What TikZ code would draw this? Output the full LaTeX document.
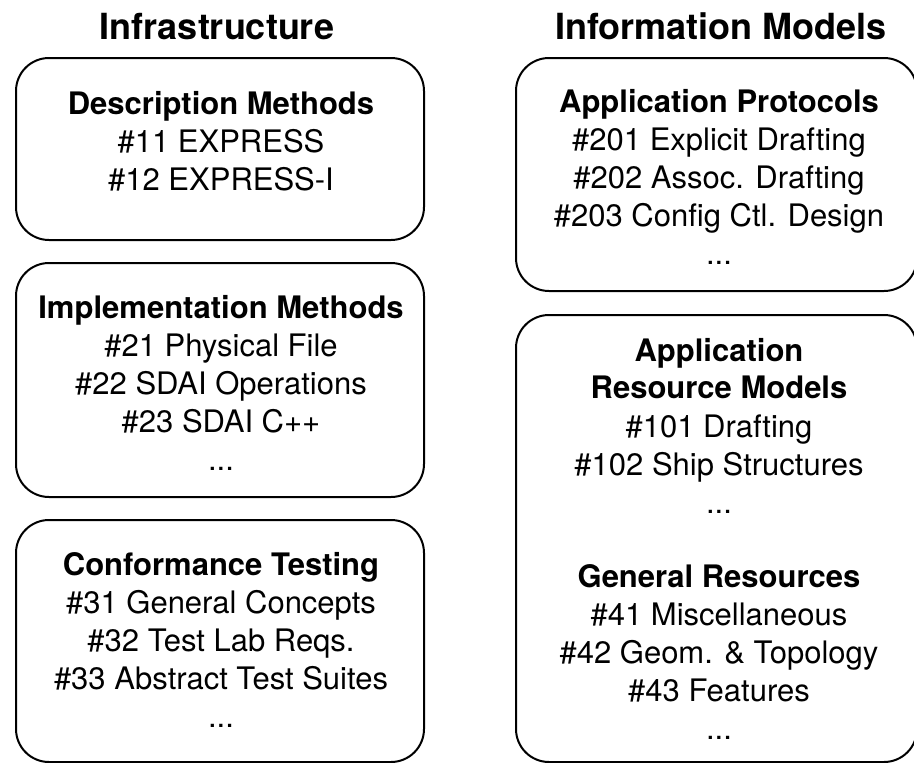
\documentclass[tikz,border=0pt]{standalone}
\usepackage{fontspec}
\setmainfont{TeX Gyre Heros}
\begin{document}
\begin{tikzpicture}[x=1pt,y=-1pt,
  panel/.style={draw=black,line width=2pt,rounded corners=33pt,inner sep=0pt},
  heading/.style={anchor=base,inner sep=0pt,font=\fontsize{36}{42}\selectfont\bfseries},
  title/.style={anchor=base,inner sep=0pt,font=\fontsize{31}{38}\selectfont\bfseries},
  entry/.style={anchor=base,inner sep=0pt,font=\fontsize{31}{38}\selectfont}]
\useasboundingbox (0,0) rectangle (914,763);

% column headings
\node[heading] (hinfra) at (217,39) {Infrastructure};
\node[heading] (hinfo) at (721,39) {Information Models};

% left column: infrastructure parts
\draw[panel] (16,58) rectangle (424,240);
\node[title] (dm) at (221,114) {Description Methods};
\node[entry] (dm1) at (221,152) {\#11 EXPRESS};
\node[entry] (dm2) at (221,190) {\#12 EXPRESS-I};

\draw[panel] (16,263) rectangle (424,497);
\node[title] (im) at (221,318) {Implementation Methods};
\node[entry] (im1) at (221,356) {\#21 Physical File};
\node[entry] (im2) at (221,394) {\#22 SDAI Operations};
\node[entry] (im3) at (221,432) {\#23 SDAI C++};
\node[entry] (im4) at (221,470) {...};

\draw[panel] (16,520) rectangle (424,762);
\node[title] (ct) at (221,575) {Conformance Testing};
\node[entry] (ct1) at (221,613) {\#31 General Concepts};
\node[entry] (ct2) at (221,651) {\#32 Test Lab Reqs.};
\node[entry] (ct3) at (221,689) {\#33 Abstract Test Suites};
\node[entry] (ct4) at (221,727) {...};

% right column: information models
\draw[panel] (516,58) rectangle (917,291);
\node[title] (ap) at (719,112) {Application Protocols};
\node[entry] (ap1) at (719,150) {\#201 Explicit Drafting};
\node[entry] (ap2) at (719,188) {\#202 Assoc. Drafting};
\node[entry] (ap3) at (719,226) {\#203 Config Ctl. Design};
\node[entry] (ap4) at (719,264) {...};

\draw[panel] (516,315) rectangle (917,762);
\node[title] (arm) at (719,361) {Application};
\node[title] (arm0) at (719,398) {Resource Models};
\node[entry] (arm1) at (719,437) {\#101 Drafting};
\node[entry] (arm2) at (719,475) {\#102 Ship Structures};
\node[entry] (arm3) at (719,513) {...};
\node[title] (gr) at (719,587) {General Resources};
\node[entry] (gr1) at (719,625) {\#41 Miscellaneous};
\node[entry] (gr2) at (719,663) {\#42 Geom. \& Topology};
\node[entry] (gr3) at (719,701) {\#43 Features};
\node[entry] (gr4) at (719,739) {...};
\end{tikzpicture}
\end{document}
